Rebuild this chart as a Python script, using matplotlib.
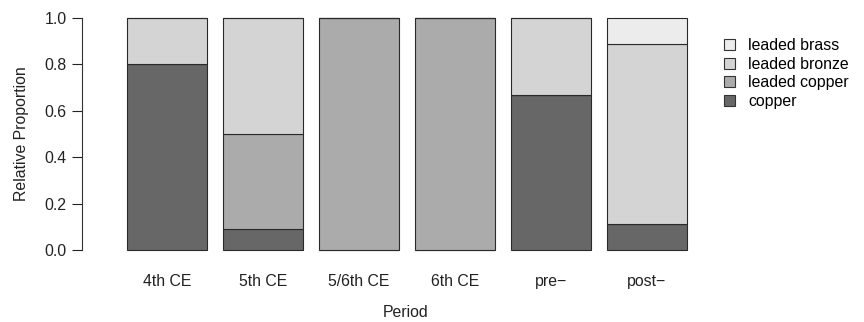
import matplotlib.pyplot as plt
from matplotlib.patches import Patch
import numpy as np

plt.rcParams['font.family'] = ['Liberation Sans', 'DejaVu Sans']

periods = ["4th CE", "5th CE", "5/6th CE", "6th CE", "pre\u2212", "post\u2212"]
copper = [0.8, 0.09, 0.0, 0.0, 2 / 3, 1 / 9]
leaded_copper = [0.0, 0.41, 1.0, 1.0, 0.0, 0.0]
leaded_bronze = [0.2, 0.5, 0.0, 0.0, 1 / 3, 7 / 9]
leaded_brass = [0.0, 0.0, 0.0, 0.0, 0.0, 1 / 9]

series = [("copper", copper, "#676767"),
          ("leaded copper", leaded_copper, "#ababab"),
          ("leaded bronze", leaded_bronze, "#d4d4d4"),
          ("leaded brass", leaded_brass, "#ececec")]

fig = plt.figure(figsize=(8.64, 3.22), dpi=100)
ax = fig.add_axes([82 / 864, 72 / 322, (730 - 82) / 864, 232 / 322])

x = np.arange(len(periods))
bottom = np.zeros(len(periods))
for name, vals, col in series:
    vals = np.array(vals)
    ax.bar(x, vals, width=0.833, bottom=bottom, color=col,
           edgecolor="#2a2a2a", linewidth=0.8, clip_on=False)
    bottom += vals

ax.set_xlim((82 - 167) / 96, (730 - 167) / 96)
ax.set_ylim(0, 1)
ax.set_yticks([0, 0.2, 0.4, 0.6, 0.8, 1.0])
ax.set_yticklabels(["0.0", "0.2", "0.4", "0.6", "0.8", "1.0"])
ax.set_xticks(x)
ax.set_xticklabels(periods)
for s in ["top", "right", "bottom"]:
    ax.spines[s].set_visible(False)
ax.spines["left"].set_color("#333333")
ax.tick_params(axis="y", length=7, width=0.8, pad=4, labelsize=11.4, colors="#222222")
ax.tick_params(axis="x", length=0, pad=17, labelsize=11.4, colors="#222222")
ax.set_ylabel("Relative Proportion", fontsize=11.4, labelpad=11, color="#222222")
ax.set_xlabel("Period", fontsize=11.4, labelpad=12, color="#222222")

handles = [Patch(facecolor=col, edgecolor="#333333", linewidth=0.8, label=name)
           for name, vals, col in reversed(series)]
fig.legend(handles=handles, loc="upper left", bbox_to_anchor=(718 / 864, 1 - 32 / 322),
           frameon=False, fontsize=11.4, handlelength=0.7, handleheight=0.7,
           handletextpad=0.8, labelspacing=0.22, borderaxespad=0)

fig.savefig("out.png", dpi=100)
